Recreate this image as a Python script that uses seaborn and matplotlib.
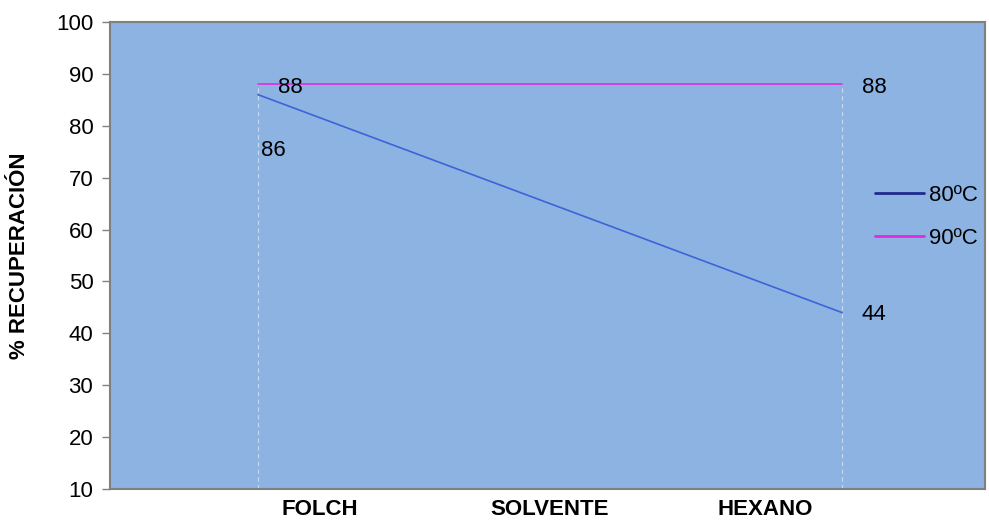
import matplotlib
matplotlib.use("Agg")
import matplotlib.pyplot as plt
from matplotlib.lines import Line2D
import seaborn as sns
import pandas as pd

# Data
puntos = ["FOLCH", "HEXANO"]
rec_80 = [86, 44]
rec_90 = [88, 88]
etiquetas_x = ["FOLCH", "SOLVENTE", "HEXANO"]
series = ["80ºC", "90ºC"]

sns.set_theme(style="white")
plt.rcParams["font.family"] = ["Liberation Sans", "DejaVu Sans"]
plt.rcParams["text.color"] = "black"
plt.rcParams["xtick.labelcolor"] = "black"
plt.rcParams["ytick.labelcolor"] = "black"
plt.rcParams["axes.labelcolor"] = "black"

pos = list(range(len(puntos)))
df = pd.DataFrame({
    "x": pos * 2,
    "valor": rec_80 + rec_90,
    "serie": [series[0]] * len(puntos) + [series[1]] * len(puntos),
})

line_colors = {"80ºC": "#3D63D8", "90ºC": "#E22BE0"}
legend_colors = {"80ºC": "#1F2A8A", "90ºC": "#E22BE0"}

fig = plt.figure(figsize=(9.89, 5.20), dpi=100)
ax = fig.add_axes([110 / 989, 1 - 489 / 520, 875 / 989, 467 / 520])
ax.set_facecolor("#8DB3E2")

sns.lineplot(data=df, x="x", y="valor", hue="serie", palette=line_colors,
             linewidth=1.2, legend=False, ax=ax)

# Drop lines from the highest point of each category
for i in pos:
    top = max(rec_80[i], rec_90[i])
    ax.plot([i, i], [10, top], color="white", alpha=0.55, linewidth=0.8,
            linestyle=(0, (4, 3)), zorder=1)

# Value labels
fs_val = 16
ax.text(0.034, rec_90[0] - 0.6, str(rec_90[0]), fontsize=fs_val, va="center", ha="left")
ax.text(0.005, rec_80[0] - 10.8, str(rec_80[0]), fontsize=fs_val, va="center", ha="left")
ax.text(1.034, rec_90[1] - 0.6, str(rec_90[1]), fontsize=fs_val, va="center", ha="left")
ax.text(1.034, rec_80[1] - 0.4, str(rec_80[1]), fontsize=fs_val, va="center", ha="left")

ax.set_xlim(-0.2534, 1.2449)
ax.set_ylim(10, 100)
ax.set_yticks(range(10, 101, 10))
ax.set_xticks([0.106, 0.5, 0.868])
ax.set_xticklabels(etiquetas_x, fontweight="bold", fontsize=16)
ax.tick_params(axis="x", length=0, pad=7)
ax.tick_params(axis="y", length=6, width=1, color="#808080", labelsize=16, pad=6, left=True, direction="out")
ax.set_xlabel("")
ax.set_ylabel("% RECUPERACIÓN", fontweight="bold", fontsize=16)
ax.yaxis.set_label_coords(-0.092, 0.5)

for s in ax.spines.values():
    s.set_color("#808080")
    s.set_linewidth(1.5)

handles = [Line2D([0], [0], color=legend_colors[s], linewidth=2) for s in series]
leg = ax.legend(handles, series, loc="center left", bbox_to_anchor=(0.874, 0.583),
                frameon=False, fontsize=16, handlelength=2.2, handletextpad=0.25,
                labelspacing=1.0, borderpad=0, borderaxespad=0)

fig.savefig("out.png", dpi=100)
